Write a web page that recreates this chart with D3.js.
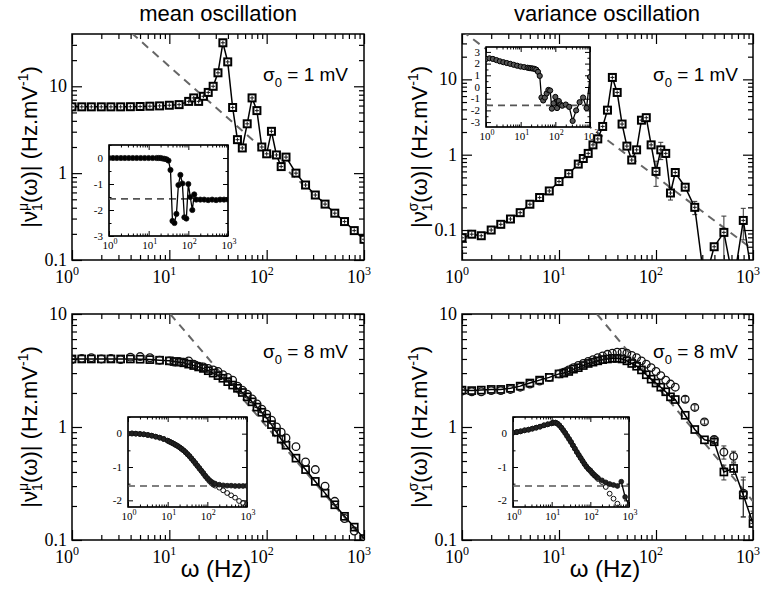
<!DOCTYPE html>
<html>
<head>
<meta charset="utf-8">
<script src="https://cdn.jsdelivr.net/npm/d3@7"></script>
<style>
  body { margin: 0; background: #fff; }
  svg { display: block; }
</style>
</head>
<body>
<svg id="fig" width="763" height="599"></svg>
<script>
// ---- data ----
var fTop = [1,1.26,1.58,2,2.51,3.16,3.98,5.01,6.31,7.94,10,12.6,15.8,17.8,20,22.4,25.1,28.2,31.6,35.5,39.8,44.7,50.1,
            56.2,63.1,70.8,79.4,89.1,100,112,126,141,158,200,251,316,398,501,631,794,1000];
var meanMag1 = [5.8,5.8,5.8,5.8,5.8,5.8,5.82,5.85,5.9,5.95,6.05,6.15,6.7,7.35,6.7,7.67,8.5,10,14.3,31.7,19.1,5.7,2.43,
                1.95,3.7,7.35,5.25,2.0,1.67,3.03,1.62,1.19,1.53,1.0,0.73,0.56,0.44,0.346,0.277,0.218,0.173];
var meanPh1 = [0,0,0,0,0,0,0,0,0,0,0,0,0,0,0,-0.02,-0.03,-0.05,-0.1,-0.46,-2.42,-2.5,-2.15,
               -1.04,-0.65,-0.98,-2.28,-2.33,-1.0,-1.5,-2.0,-1.4,-1.6,-1.6,-1.6,-1.62,-1.6,-1.62,-1.6,-1.6,-1.6];
var varMag1 = [0.079,0.088,0.084,0.1,0.119,0.14,0.17,0.22,0.27,0.33,0.44,0.56,0.75,0.89,1.04,1.35,1.62,2.37,3.9,10.6,6.7,2.55,1.3,
               0.85,1.16,2.87,3.1,1.35,0.6,1.16,1.04,0.31,0.58,0.37,0.2,0.02,0.06,0.093,0.02,0.134,0.02];
var varErr1 = [0,0,0,0,0,0,0,0,0,0,0,0,0,0,0,0,0,0,0,0,0,0,0,
               0,0,0,0,0,0.22,0.3,0.12,0.06,0,0,0.04,0,0,0.06,0,0.06,0];
var varPh1 = [2.4,2.45,2.4,2.3,2.2,2.12,2.05,1.98,1.9,1.82,1.75,1.7,1.65,1.62,1.6,1.58,1.55,1.48,1.3,0.95,-0.9,-1.15,-0.9,
              -0.55,-0.25,-0.3,-1.85,-1.4,-0.85,-1.8,-1.2,-1.5,-1.6,-1.5,-1.7,-2.9,-2.0,-1.3,-0.9,-1.8,0.85];

var fBot = [1,1.26,1.58,2,2.51,3.16,3.98,5.01,6.31,7.94,10,11.2,12.6,14.1,15.8,17.8,20,22.4,25.1,28.2,
            31.6,35.5,39.8,44.7,50.1,56.2,63.1,70.8,79.4,89.1,100,112,126,141,158,200,251,316,398,501,631,794,1000];
var meanSq8 = [4.0,4.0,4.0,4.0,4.0,4.0,4.0,3.98,3.95,3.9,3.85,3.8,3.75,3.7,3.6,3.5,3.4,3.3,3.15,3.0,
               2.85,2.7,2.52,2.35,2.2,2.02,1.85,1.67,1.5,1.35,1.2,1.05,0.9,0.78,0.69,0.53,0.42,0.33,0.26,0.205,0.162,0.13,0.103];
var meanCi8 = [3.95,4.05,4.1,4.0,4.05,3.95,4.15,4.2,4.1,3.9,3.85,3.75,3.8,3.75,3.85,3.6,3.45,3.4,3.3,3.2,
               3.1,2.9,2.75,2.6,2.3,2.12,1.95,1.77,1.6,1.44,1.3,1.15,1.0,0.9,0.8,0.67,0.49,0.42,0.3,0.22,0.155,0.12,null];
var meanPhF8 = [0,0,0,-0.01,-0.02,-0.04,-0.06,-0.09,-0.12,-0.16,-0.21,-0.24,-0.27,-0.3,-0.33,-0.37,-0.41,-0.45,-0.5,-0.55,
                -0.61,-0.67,-0.74,-0.81,-0.88,-0.96,-1.03,-1.11,-1.18,-1.26,-1.33,-1.39,-1.44,-1.48,-1.5,-1.53,-1.55,-1.56,-1.56,-1.57,-1.57,-1.57,-1.57];
var meanPhO8 = [0,0.01,0,-0.01,-0.02,-0.04,-0.06,-0.09,-0.12,-0.16,-0.21,-0.24,-0.27,-0.3,-0.34,-0.37,-0.41,-0.46,-0.5,-0.56,
                -0.62,-0.68,-0.75,-0.82,-0.9,-0.97,-1.05,-1.12,-1.2,-1.28,-1.35,-1.42,-1.48,-1.53,-1.56,-1.62,-1.7,-1.78,-1.85,-1.92,-2.02,-2.08,-2.1];
var varSq8 = [2.12,2.1,2.12,2.15,2.15,2.2,2.3,2.45,2.6,2.75,2.95,3.0,3.1,3.25,3.35,3.5,3.65,3.75,3.85,3.95,
              4.0,4.05,4.05,4.0,3.85,3.65,3.45,3.2,2.9,2.65,2.45,2.25,2.05,1.85,1.75,1.27,0.95,0.77,0.74,0.40,0.43,0.25,0.14];
var varSqErr8 = [0,0,0,0,0,0,0,0,0,0,0,0,0,0,0,0,0,0,0,0,0,0,0,0,0,0,0,0,0,0,0,0,0,0,0,0,0,0,0.03,0.06,0.05,0.09,0.01];
var varCi8 = [2.08,2.05,2.05,2.1,2.1,2.15,2.25,2.4,2.55,2.75,2.95,3.05,3.2,3.35,3.5,3.65,3.8,3.95,4.1,4.25,
              4.4,4.5,4.6,4.6,4.5,4.3,4.1,3.85,3.6,3.35,3.1,2.85,2.6,2.4,2.25,1.76,1.49,1.11,0.775,0.6,0.55,0.26,0.16];
var varCiErr8 = [0,0,0,0,0,0,0,0,0,0,0,0,0,0,0,0,0,0,0,0,0,0,0,0,0,0,0,0,0,0,0,0,0,0,0,0.1,0.08,0.05,0.05,0.08,0.06,0.1,0.02];
var varPhF8 = [0.03,0.05,0.07,0.1,0.12,0.15,0.18,0.21,0.25,0.28,0.31,0.33,0.33,0.3,0.25,0.18,0.1,0.02,-0.07,-0.16,
               -0.25,-0.35,-0.45,-0.55,-0.64,-0.73,-0.82,-0.91,-0.99,-1.06,-1.1,-1.17,-1.23,-1.28,-1.33,-1.4,-1.46,-1.51,-1.54,-1.57,-1.44,-1.9,-2.15];
var varPhO8 = [0.03,0.05,0.07,0.1,0.12,0.15,0.18,0.21,0.25,0.28,0.31,0.33,0.33,0.3,0.25,0.18,0.1,0.02,-0.07,-0.16,
               -0.25,-0.35,-0.45,-0.55,-0.64,-0.73,-0.82,-0.91,-0.99,-1.06,-1.12,-1.19,-1.25,-1.3,-1.36,-1.45,-1.6,-1.8,-1.95,-2.1,-2.25,-2.4,-2.5];

// high-frequency asymptotes (dashed) and the -pi/2 phase level
var meanAsym1 = [[4.1, 41], [1000, 0.178]];
var varAsym1 = [[1, 44], [1000, 0.055]];
var meanAsym8 = [[10.2, 10], [1000, 0.1]];
var varAsym8 = [[24.6, 10], [1000, 0.22]];
var phaseLimit = -1.5708;

var titles = ["mean oscillation", "variance oscillation"];
var sigmaTexts = ["1 mV", "8 mV"];
var xDecades = [1, 10, 100, 1000];

// ---- drawing ----
var svg = d3.select("#fig");
var serif = "'Liberation Serif','Times New Roman','DejaVu Serif',serif",
    sans = "'Liberation Sans',Arial,sans-serif";
var clipN = 0;

function logMinor(lo, hi) {
    var out = [];
    for (var d = Math.pow(10, Math.floor(Math.log10(lo) + 1e-9)); d < hi; d *= 10) {
        for (var k = 2; k < 10; k++) {
            var v = k * d;
            if (v > lo * 1.001 && v < hi * 0.999) out.push(v);
        }
    }
    return out;
}

function drawTicks(g, x, y, xMaj, xMin, yMaj, yMin, big, small, sw) {
    var xr = x.range(), yr = y.range();
    [[xMaj, big], [xMin, small]].forEach(function(p) {
        g.append("g").attr("transform", "translate(0," + yr[0] + ")")
            .call(d3.axisBottom(x).tickValues(p[0]).tickSize(-p[1]).tickFormat(""));
        g.append("g").attr("transform", "translate(0," + yr[1] + ")")
            .call(d3.axisTop(x).tickValues(p[0]).tickSize(-p[1]).tickFormat(""));
    });
    [[yMaj, big], [yMin, small]].forEach(function(p) {
        g.append("g").attr("transform", "translate(" + xr[0] + ",0)")
            .call(d3.axisLeft(y).tickValues(p[0]).tickSize(-p[1]).tickFormat(""));
        g.append("g").attr("transform", "translate(" + xr[1] + ",0)")
            .call(d3.axisRight(y).tickValues(p[0]).tickSize(-p[1]).tickFormat(""));
    });
    g.selectAll(".domain").remove();
    g.selectAll(".tick line").attr("stroke", "#000").attr("stroke-width", sw);
}

function frame(g, x, y, sw, fill) {
    var xr = x.range(), yr = y.range();
    return g.append("rect").attr("x", xr[0]).attr("y", yr[1])
        .attr("width", xr[1] - xr[0]).attr("height", yr[0] - yr[1])
        .attr("fill", fill || "none").attr("stroke", "#000").attr("stroke-width", sw);
}

function clipFor(x, y) {
    var id = "clip" + (clipN++), xr = x.range(), yr = y.range();
    svg.append("clipPath").attr("id", id).append("rect")
        .attr("x", xr[0]).attr("y", yr[1]).attr("width", xr[1] - xr[0]).attr("height", yr[0] - yr[1]);
    return "url(#" + id + ")";
}

function decadeLabels(g, x, yb, vals, fs, sfs, rise, shift) {
    vals.forEach(function(v) {
        var t = g.append("text").attr("x", x(v) + shift).attr("y", yb)
            .attr("text-anchor", "middle").attr("font-family", serif).attr("font-size", fs);
        t.append("tspan").text("10");
        t.append("tspan").attr("font-size", sfs).attr("dy", -rise).text(Math.round(Math.log10(v)));
    });
}

function yLabels(g, y, xr, vals, fs, fmt) {
    vals.forEach(function(v) {
        g.append("text").attr("x", xr).attr("y", y(v)).attr("dy", "0.33em")
            .attr("text-anchor", "end").attr("font-family", serif).attr("font-size", fs)
            .text(fmt(v));
    });
}

function pts(fs, vs, es) {
    return fs.map(function(f, i) { return {f: f, v: vs[i], e: es ? es[i] : 0}; });
}

function drawLine(layer, x, y, data, color, w, dash) {
    layer.append("path").datum(data)
        .attr("fill", "none").attr("stroke", color).attr("stroke-width", w)
        .attr("stroke-dasharray", dash || null)
        .attr("d", d3.line().defined(function(d) { return d.v != null; })
            .x(function(d) { return x(d.f); }).y(function(d) { return y(d.v); }));
}

function errBars(layer, x, y, data, lo, color) {
    var eb = data.filter(function(d) { return d.v != null && d.e > 0; });
    var g = layer.append("g").attr("stroke", color).attr("stroke-width", 1);
    eb.forEach(function(d) {
        var px = x(d.f), a = y(Math.max(d.v - d.e, lo)), b = y(d.v + d.e);
        g.append("line").attr("x1", px).attr("x2", px).attr("y1", a).attr("y2", b);
        g.append("line").attr("x1", px - 2.5).attr("x2", px + 2.5).attr("y1", a).attr("y2", a);
        g.append("line").attr("x1", px - 2.5).attr("x2", px + 2.5).attr("y1", b).attr("y2", b);
    });
}

function squares(layer, x, y, data, side, sw, fill, cross) {
    var d = data.filter(function(p) { return p.v != null; });
    layer.append("g").selectAll("rect").data(d).enter().append("rect")
        .attr("x", function(p) { return x(p.f) - side / 2; })
        .attr("y", function(p) { return y(p.v) - side / 2; })
        .attr("width", side).attr("height", side)
        .attr("fill", fill).attr("stroke", "#000").attr("stroke-width", sw);
    if (cross) {
        var g = layer.append("g").attr("stroke", "#222").attr("stroke-width", 1.1);
        d.forEach(function(p) {
            var px = x(p.f), py = y(p.v);
            g.append("line").attr("x1", px - 2).attr("x2", px + 2).attr("y1", py).attr("y2", py);
            g.append("line").attr("x1", px).attr("x2", px).attr("y1", py - 2).attr("y2", py + 2);
        });
    }
}

function circles(layer, x, y, data, r, sw, fill, stroke) {
    layer.append("g").selectAll("circle")
        .data(data.filter(function(p) { return p.v != null; })).enter().append("circle")
        .attr("cx", function(p) { return x(p.f); }).attr("cy", function(p) { return y(p.v); })
        .attr("r", r).attr("fill", fill).attr("stroke", stroke || "#111").attr("stroke-width", sw);
}

function mainPanel(c) {
    var g = svg.append("g");
    var x = d3.scaleLog().domain([1, 1000]).range([c.x0, c.x1]);
    var y = d3.scaleLog().domain(c.yDom).range([c.y1, c.y0]);
    drawTicks(g, x, y, xDecades, logMinor(1, 1000), [0.1, 1, 10], logMinor(c.yDom[0], c.yDom[1]), 10, 5, 1.2);
    frame(g, x, y, 1.5);
    decadeLabels(g, x, c.y1 + 23, xDecades, 18, 12, 8, -5);
    yLabels(g, y, c.x0 - 5, [0.1, 1, 10], 18, function(v) { return v === 0.1 ? "0.1" : String(v); });
    var data = g.append("g").attr("clip-path", clipFor(x, y));
    return {x: x, y: y, g: g, data: data};
}

function insetPanel(c) {
    var g = svg.append("g");
    var x = d3.scaleLog().domain([1, 1000]).range([c.x0, c.x1]);
    var y = d3.scaleLinear().domain(c.yDom).range([c.y1, c.y0]);
    frame(g, x, y, 1.2, "#fff");
    var yMin = [];
    for (var v = Math.ceil(c.yDom[0] * 2) / 2; v <= c.yDom[1]; v += 0.5) {
        if (Math.abs(v - Math.round(v)) > 0.1) yMin.push(v);
    }
    drawTicks(g, x, y, xDecades, logMinor(1, 1000), c.yMajor, yMin, 5, 2.5, 1);
    frame(g, x, y, 1.2);
    decadeLabels(g, x, c.y1 + 13, xDecades, 11, 8, 5, 1);
    yLabels(g, y, c.x0 - 6, c.yMajor, 11, function(v) { return String(v); });
    var data = g.append("g").attr("clip-path", clipFor(x, y));
    // -pi/2 reference
    drawLine(data, x, y, [{f: 1, v: phaseLimit}, {f: 1000, v: phaseLimit}], "#555", 1.6, "7,5");
    return {x: x, y: y, g: g, data: data};
}

function asym(panel, a) {
    drawLine(panel.data, panel.x, panel.y, a.map(function(p) { return {f: p[0], v: p[1]}; }), "#666", 2, "8,6");
}

// --- top left: mean, sigma0 = 1 mV ---
var tl = mainPanel({x0: 72, x1: 364, y0: 34, y1: 260, yDom: [0.1, 40]});
asym(tl, meanAsym1);
var tlPts = pts(fTop, meanMag1);
drawLine(tl.data, tl.x, tl.y, tlPts, "#000", 1.5);
squares(tl.data, tl.x, tl.y, tlPts, 7, 2, "#fff", true);

var tli = insetPanel({x0: 109, x1: 228, y0: 145, y1: 236, yDom: [-3, 0.5], yMajor: [0, -1, -2, -3]});
var tliPts = pts(fTop, meanPh1);
drawLine(tli.data, tli.x, tli.y, tliPts, "#000", 1.3);
circles(tli.data, tli.x, tli.y, tliPts, 2.6, 0.8, "#000");

// --- top right: variance, sigma0 = 1 mV ---
var tr = mainPanel({x0: 462, x1: 753, y0: 34, y1: 260, yDom: [0.04, 40]});
asym(tr, varAsym1);
var trPts = pts(fTop, varMag1, varErr1);
errBars(tr.data, tr.x, tr.y, trPts, 0.001, "#333");
drawLine(tr.data, tr.x, tr.y, trPts, "#000", 1.5);
squares(tr.data, tr.x, tr.y, trPts, 7, 2, "#fff", true);

var tri = insetPanel({x0: 486, x1: 590, y0: 47, y1: 127, yDom: [-3.42, 3.42], yMajor: [3, 2, 1, 0, -1, -2, -3]});
var triPts = pts(fTop, varPh1);
drawLine(tri.data, tri.x, tri.y, triPts, "#000", 1.3);
circles(tri.data, tri.x, tri.y, triPts, 2.6, 1, "#555", "#000");

// --- bottom left: mean, sigma0 = 8 mV ---
var bl = mainPanel({x0: 72, x1: 364, y0: 314, y1: 540, yDom: [0.1, 10]});
asym(bl, meanAsym8);
var blSq = pts(fBot, meanSq8), blCi = pts(fBot, meanCi8);
drawLine(bl.data, bl.x, bl.y, blSq, "#000", 1.5);
squares(bl.data, bl.x, bl.y, blSq, 7, 1.7, "none", false);
circles(bl.data, bl.x, bl.y, blCi, 3.8, 1.3, "none");

var bli = insetPanel({x0: 128, x1: 247, y0: 417, y1: 507, yDom: [-2.2, 0.5], yMajor: [0, -1, -2]});
var bliF = pts(fBot, meanPhF8), bliO = pts(fBot, meanPhO8);
circles(bli.data, bli.x, bli.y, bliO, 2.4, 1, "none");
drawLine(bli.data, bli.x, bli.y, bliF, "#000", 1.3);
circles(bli.data, bli.x, bli.y, bliF, 2.4, 0.8, "#222");

// --- bottom right: variance, sigma0 = 8 mV ---
var br = mainPanel({x0: 462, x1: 753, y0: 314, y1: 540, yDom: [0.1, 10]});
asym(br, varAsym8);
var brSq = pts(fBot, varSq8, varSqErr8), brCi = pts(fBot, varCi8, varCiErr8);
errBars(br.data, br.x, br.y, brSq, 0.05, "#333");
errBars(br.data, br.x, br.y, brCi, 0.05, "#333");
drawLine(br.data, br.x, br.y, brSq, "#000", 1.5);
squares(br.data, br.x, br.y, brSq, 7, 1.7, "none", false);
circles(br.data, br.x, br.y, brCi, 3.8, 1.3, "none");

var bri = insetPanel({x0: 513, x1: 629, y0: 417, y1: 507, yDom: [-2.2, 0.5], yMajor: [0, -1, -2]});
var briF = pts(fBot, varPhF8), briO = pts(fBot, varPhO8);
circles(bri.data, bri.x, bri.y, briO, 2.4, 1, "none");
drawLine(bri.data, bri.x, bri.y, briF, "#000", 1.3);
circles(bri.data, bri.x, bri.y, briF, 2.4, 0.8, "#222");

// ---- texts ----
[[218, titles[0]], [607, titles[1]]].forEach(function(t) {
    svg.append("text").attr("x", t[0]).attr("y", 21).attr("text-anchor", "middle")
        .attr("font-family", sans).attr("font-size", 22).text(t[1]);
});

function yTitle(xp, yp, sym) {
    var t = svg.append("text").attr("transform", "translate(" + xp + "," + yp + ") rotate(-90)")
        .attr("text-anchor", "middle").attr("font-family", sans).attr("font-size", 22);
    t.append("tspan").text("|ν");
    t.append("tspan").attr("font-size", 14).attr("dy", 5).text("1");
    t.append("tspan").attr("font-size", 14).attr("dx", -7.8).attr("dy", -14).text(sym);
    t.append("tspan").attr("dy", 9).text("(ω)| (Hz.mV");
    t.append("tspan").attr("font-size", 14).attr("dy", -9).text("-1");
    t.append("tspan").attr("dy", 9).text(")");
}
yTitle(37, 147, "μ");
yTitle(427, 147, "σ");
yTitle(37, 427, "μ");
yTitle(427, 427, "σ");

function sigmaLabel(xEnd, yb, txt) {
    var t = svg.append("text").attr("x", xEnd).attr("y", yb).attr("text-anchor", "end")
        .attr("font-family", sans).attr("font-size", 19);
    t.append("tspan").text("σ");
    t.append("tspan").attr("font-size", 13).attr("dy", 6).text("0");
    t.append("tspan").attr("dy", -6).text(" = " + txt);
}
sigmaLabel(348, 81, sigmaTexts[0]);
sigmaLabel(738, 81, sigmaTexts[0]);
sigmaLabel(348, 358, sigmaTexts[1]);
sigmaLabel(738, 358, sigmaTexts[1]);

[216, 605].forEach(function(cx) {
    svg.append("text").attr("x", cx).attr("y", 577).attr("text-anchor", "middle")
        .attr("font-family", sans).attr("font-size", 24).text("ω (Hz)");
});
</script>
</body>
</html>
